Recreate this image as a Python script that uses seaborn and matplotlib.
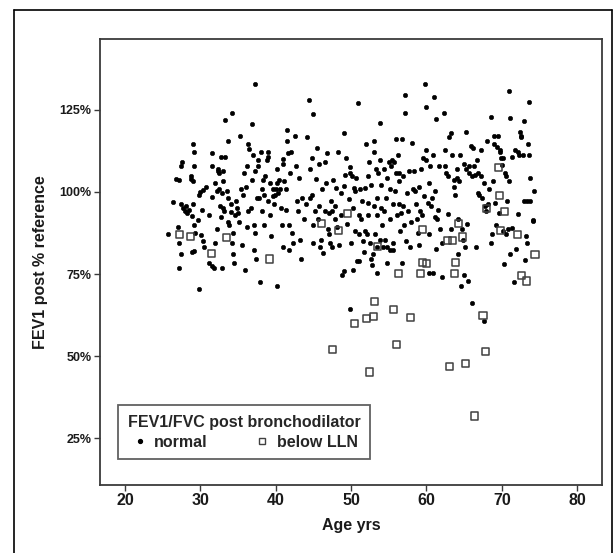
import numpy as np
import pandas as pd
import matplotlib
matplotlib.use("Agg")
import matplotlib.pyplot as plt
import seaborn as sns
from matplotlib.lines import Line2D

# FEV1/FVC normal: (age, FEV1 post % reference)
normal_age = [
    25.7, 26.3, 26.7, 27.0, 27.1, 27.1, 27.2, 27.4, 27.5, 27.4, 27.4, 27.7, 28.0, 28.2, 28.1,
    28.5, 28.7, 28.9, 28.8, 29.0, 29.2, 29.2, 29.0, 29.0, 28.9, 29.1, 29.2, 29.3, 29.8, 29.8,
    29.9, 29.7, 30.2, 30.3, 30.1, 30.4, 30.5,
    30.7, 31.1, 31.2, 31.5, 31.6, 31.5, 31.6, 31.8, 31.9, 32.0, 32.2, 32.2, 32.3, 32.4, 32.5,
    32.5, 32.6, 32.7, 32.8, 32.9, 33.0, 33.0, 33.0, 33.1, 32.9, 33.3, 33.3, 33.5, 33.6, 33.6,
    33.8, 33.7, 34.0, 34.1, 34.2, 34.2, 34.3, 34.3, 34.5, 34.6, 34.7, 34.9, 35.0, 35.1, 35.2,
    35.4, 35.5, 35.6,
    35.8, 35.9, 36.0, 36.2, 36.2, 36.3, 36.3, 36.5, 36.7, 36.8, 36.9, 37.0, 37.1, 37.1, 37.2,
    37.2, 37.3, 37.4, 37.5, 37.6, 37.7, 37.8, 37.9, 38.0, 38.2, 38.2, 38.3, 38.4, 38.5, 38.6,
    38.8, 39.0, 39.0, 39.0, 39.2, 39.3, 39.4, 39.6, 39.7, 39.8, 39.9, 40.0, 40.1, 40.2, 40.2,
    40.3, 40.4, 40.6, 40.7, 40.8, 40.9,
    41.0, 41.0, 41.1, 41.3, 41.4, 41.5, 41.5, 41.6, 41.8, 41.8, 41.9, 42.0, 42.2, 42.3, 42.5,
    42.7, 42.8, 42.9, 43.1, 43.2, 43.4, 43.5, 43.7, 44.0, 44.2, 44.4, 44.5, 44.6, 44.8, 44.8,
    44.9, 44.9, 45.0, 45.2, 45.3, 45.5, 45.6, 45.7, 45.8, 45.9, 46.0, 46.1,
    46.3, 46.5, 46.6, 46.7, 46.8, 46.9, 47.0, 47.1, 47.2, 47.3, 47.4, 47.5, 47.6, 47.8, 47.9,
    48.0, 48.1, 48.3, 48.4, 48.6, 48.7, 48.8, 49.0, 49.0, 49.1, 49.2, 49.3, 49.5, 49.7, 49.8,
    49.8, 49.9, 50.0, 50.1, 50.2, 50.3, 50.4, 50.5, 50.5, 50.7, 50.8, 50.9, 51.0, 51.0, 51.1,
    51.2, 51.3,
    51.4, 51.6, 51.7, 51.8, 51.9, 52.0, 52.1, 52.2, 52.2, 52.3, 52.4, 52.5, 52.6, 52.7, 52.8,
    52.9, 53.0, 53.0, 53.1, 53.2, 53.3, 53.4, 53.4, 53.5, 53.5, 53.6, 53.8, 53.8, 53.8, 53.9,
    54.0, 54.1, 54.2, 54.3, 54.4, 54.5, 54.6, 54.7, 54.8, 54.8, 55.0, 55.1, 55.1, 55.2, 55.3,
    55.4, 55.5, 55.6, 55.6, 55.7, 55.8, 55.9, 56.0, 56.1, 56.2, 56.3, 56.3, 56.4, 56.5,
    56.6, 56.7, 56.8, 56.9, 56.9, 57.0, 57.1, 57.2, 57.3, 57.4, 57.6, 57.7, 57.8, 58.0, 58.1,
    58.2, 58.3, 58.5, 58.6, 58.8, 58.9, 59.0, 59.0, 59.2, 59.3, 59.4, 59.6, 59.7, 59.8, 59.9,
    60.0, 60.0, 60.2, 60.3, 60.3, 60.4, 60.5, 60.6, 60.7, 60.8, 60.8, 61.0, 61.1, 61.1, 61.2,
    61.3, 61.4, 61.5, 61.7,
    61.8, 62.0, 62.1, 62.3, 62.4, 62.5, 62.6, 62.8, 62.9, 63.0, 63.2, 63.3, 63.4, 63.6, 63.7,
    63.8, 64.0, 64.1, 64.2, 64.2, 64.3, 64.5, 64.6, 64.7, 64.9, 65.0, 65.0, 65.1, 65.2, 65.3,
    65.4, 65.5, 65.6, 65.7, 65.9, 66.0, 66.0, 66.2, 66.3, 66.4, 66.6, 66.7, 66.8, 66.9,
    67.0, 67.2, 67.3, 67.4, 67.6, 67.6, 67.7, 67.9, 68.0, 68.1, 68.3, 68.5, 68.6, 68.7, 68.8,
    68.9, 69.0, 69.1, 69.2, 69.3, 69.5, 69.6, 69.7, 69.8, 69.9, 70.0, 70.1, 70.2, 70.3, 70.4,
    70.5, 70.6, 70.7, 70.8, 70.9, 71.0, 71.1, 71.1, 71.3, 71.4, 71.6, 71.8, 71.9, 72.1, 72.2,
    72.3, 72.4, 72.5, 72.6, 72.8, 72.9, 73.0, 73.1, 73.2, 73.3, 73.4, 73.5, 73.6, 73.6, 73.7,
    73.8, 74.1, 74.2, 74.1,
]
normal_fev = [
    87.1, 97.1, 104.0, 89.2, 84.6, 76.9, 103.8, 108.0, 109.0, 81.2, 96.2, 95.0, 94.3, 93.5, 95.6,
    94.6, 104.8, 92.8, 104.0, 114.5, 112.3, 108.0, 103.5, 96.2, 81.7, 82.0, 89.8, 87.6, 70.6, 99.1,
    99.9, 91.4, 94.6, 85.0, 86.8, 100.6, 83.3,
    101.6, 93.0, 78.5, 112.0, 108.0, 98.6, 77.4, 76.9, 84.4, 102.7, 100.2, 88.7, 107.0, 106.5, 105.9,
    100.8, 95.7, 92.5, 110.7, 99.7, 106.5, 103.2, 95.0, 94.1, 76.9, 122.0, 110.7, 100.2, 115.5, 90.8,
    89.8, 98.2, 96.2, 94.0, 124.0, 84.4, 81.2, 87.6, 78.5, 93.0, 97.3, 95.1, 93.5, 90.8, 117.2,
    100.8, 83.9, 99.1,
    105.9, 76.4, 101.6, 108.0, 89.2, 114.5, 94.1, 113.0, 95.1, 103.8, 120.6, 111.2, 89.8, 82.3, 106.5,
    87.6, 133.0, 79.6, 98.2, 109.6, 108.0, 98.2, 72.6, 112.3, 94.1, 100.8, 103.8, 99.1, 89.8, 104.8,
    109.6, 110.7, 112.3, 97.3, 102.7, 93.0, 86.5, 100.8, 98.7, 96.2, 99.1, 100.8, 71.3, 102.7, 107.0,
    99.7, 103.8, 100.8, 95.1, 89.8, 110.0,
    83.3, 108.6, 103.2, 100.8, 94.6, 115.5, 118.8, 111.8, 82.3, 89.8, 105.9, 112.3, 87.6, 84.4, 117.2,
    108.0, 97.3, 94.1, 104.3, 85.5, 79.6, 98.2, 91.9, 96.2, 116.6, 127.9, 107.0, 98.2, 110.2, 99.1,
    123.6, 84.4, 89.8, 94.1, 104.0, 113.4, 91.9, 108.6, 95.7, 83.3, 85.5, 100.8,
    81.4, 94.3, 109.1, 102.7, 112.0, 88.7, 93.5, 87.1, 84.4, 97.3, 83.3, 94.1, 103.8, 91.9, 95.7,
    101.1, 89.2, 112.3, 83.9, 93.0, 99.7, 74.7, 117.9, 75.8, 101.9, 105.3, 110.2, 90.3, 97.8, 107.5,
    64.4, 105.9, 84.4, 104.8, 95.1, 76.3, 101.3, 100.2, 88.2, 104.3, 79.0, 127.0, 93.0, 87.1, 79.0,
    100.8, 91.9,
    97.3, 85.0, 81.7, 88.2, 101.1, 114.5, 87.1, 104.8, 93.0, 96.8, 109.1, 84.4, 79.6, 102.1, 77.9,
    81.2, 115.5, 112.3, 95.7, 87.1, 107.0, 98.2, 83.3, 93.0, 75.3, 105.9, 109.6, 121.1, 85.5, 95.1,
    102.1, 89.8, 83.3, 94.1, 107.0, 85.5, 98.2, 83.3, 104.3, 78.5, 109.1, 91.9, 82.3, 100.8, 108.0,
    109.6, 84.4, 96.2, 82.3, 109.1, 100.2, 105.9, 116.1, 93.0, 111.2, 103.2, 96.2, 105.9, 88.2,
    93.5, 116.1, 78.5, 95.7, 104.8, 89.8, 123.9, 129.5, 85.0, 99.7, 94.1, 106.5, 83.3, 90.8, 115.0,
    100.8, 106.5, 100.2, 96.2, 91.9, 87.6, 83.9, 101.6, 94.1, 107.0, 93.0, 110.2, 98.7, 133.0, 109.6,
    126.0, 112.9, 96.8, 102.7, 87.1, 75.3, 108.0, 95.7, 98.2, 75.3, 111.2, 129.0, 92.5, 100.2, 82.5,
    122.2, 91.9, 94.6, 108.0,
    88.7, 84.4, 74.2, 124.1, 108.0, 112.9, 105.9, 93.2, 104.8, 116.6, 88.7, 117.9, 111.2, 103.8, 101.6,
    99.1, 104.3, 107.0, 81.2, 91.9, 103.2, 111.2, 71.3, 88.7, 85.5, 108.6, 74.7, 83.3, 118.2, 107.0,
    90.3, 72.8, 108.0, 105.9, 113.9, 66.3, 104.8, 113.4, 108.0, 105.3, 83.3, 109.6, 105.9, 99.7,
    99.1, 112.9, 104.8, 98.2, 102.7, 60.8, 95.7, 94.1, 115.5, 96.2, 100.8, 122.7, 84.4, 87.1, 103.2,
    114.5, 117.2, 96.8, 89.8, 113.7, 116.9, 93.5, 112.3, 112.9, 110.2, 108.2, 110.4, 88.2, 78.0, 105.9,
    87.1, 104.8, 97.3, 88.7, 130.6, 103.2, 122.5, 81.2, 88.9, 110.7, 72.6, 112.9, 82.5, 93.2, 112.3,
    111.2, 118.2, 116.6, 117.2, 111.2, 97.3, 121.5, 79.2, 86.5, 84.4, 97.3, 114.5, 127.4, 111.2, 97.3,
    104.3, 91.1, 100.2, 91.4,
]

# FEV1/FVC below LLN
low_age = [
    27.2, 28.7, 31.5, 33.5, 39.2, 46.1, 48.3, 49.5, 53.5, 59.5, 59.5, 60.0, 56.3, 59.2, 62.8,
    63.5, 64.3, 64.8, 63.8, 63.7, 68.0, 69.5, 69.7, 70.3, 69.8, 72.1, 72.6, 73.3, 74.4, 53.1,
    55.6, 53.0, 52.0, 50.5, 57.9, 67.5, 56.0, 47.5, 67.8, 52.4, 63.0, 65.2, 66.4,
]
low_fev = [
    87.1, 86.5, 81.2, 86.2, 79.6, 90.3, 88.2, 93.5, 83.3, 88.7, 78.5, 78.2, 75.3, 75.3, 85.2,
    85.2, 90.5, 86.3, 78.5, 75.3, 95.1, 107.5, 98.9, 94.1, 88.2, 87.1, 74.5, 72.9, 81.0, 66.7,
    64.3, 62.1, 61.4, 59.9, 61.8, 62.4, 53.5, 52.0, 51.4, 45.2, 47.0, 47.8, 31.8,
]

y_ticks = [25, 50, 75, 100, 125]
x_ticks = [20, 30, 40, 50, 60, 70, 80]

normal_df = pd.DataFrame({"age": normal_age, "fev": normal_fev})
low_df = pd.DataFrame({"age": low_age, "fev": low_fev})

sns.set_theme(style="white")
plt.rcParams["font.family"] = ["Liberation Sans", "DejaVu Sans"]
plt.rcParams["font.weight"] = "bold"

fig = plt.figure(figsize=(6.15, 5.53), dpi=100)
ax = fig.add_axes([0.1626, 0.123, 0.8164, 0.806])

edge = "#3a3a3a"
sns.scatterplot(data=normal_df, x="age", y="fev", ax=ax, color="black",
                marker="o", s=10, edgecolor="black", linewidth=0.4)
sns.scatterplot(data=low_df, x="age", y="fev", ax=ax, marker="s", s=26,
                facecolor="none", edgecolor="#404040", linewidth=1.1)

ax.set_xlim(16.68, 83.3)
ax.set_ylim(10.8, 146.5)
ax.set_xticks(x_ticks)
ax.set_yticks(y_ticks)
ax.set_xticklabels([str(t) for t in x_ticks], fontsize=11.5, fontweight="bold", color="#1a1a1a")
ax.set_yticklabels([f"{t}%" for t in y_ticks], fontsize=9, fontweight="bold", color="#1a1a1a")
ax.tick_params(axis="both", direction="out", length=4, width=1.0, color=edge,
               bottom=True, left=True, pad=2)
for sp in ax.spines.values():
    sp.set_color(edge)
    sp.set_linewidth(1.3)

ax.set_xlabel("Age yrs", fontsize=11.5, fontweight="bold", color="#1a1a1a", labelpad=7)
ax.set_ylabel("FEV1 post % reference", fontsize=11.5, fontweight="bold", color="#1a1a1a", labelpad=8)

handles = [
    Line2D([], [], linestyle="none", marker="o", markersize=2.8, color="black"),
    Line2D([], [], linestyle="none", marker="s", markersize=5.0, markerfacecolor="none",
           markeredgecolor="#404040", markeredgewidth=1.0),
]
leg = ax.legend(handles, ["normal", "below LLN"], ncol=2, loc="lower left",
                bbox_to_anchor=(0.036, 0.058), borderaxespad=0, frameon=True,
                fancybox=False, edgecolor=edge, title="FEV1/FVC post bronchodilator",
                prop={"size": 11.5, "weight": "bold"}, handletextpad=0.3,
                columnspacing=2.8, handlelength=1.2, borderpad=0.6,
                labelspacing=0.3, alignment="center")
leg.get_title().set_fontsize(11.5)
leg.get_title().set_fontweight("bold")
leg.get_frame().set_linewidth(1.3)

# thin frame around the whole picture (left, top, right)
fig.add_artist(Line2D([0.022, 0.022], [0, 0.982], transform=fig.transFigure, color="black", lw=1.2))
fig.add_artist(Line2D([0.022, 0.995], [0.982, 0.982], transform=fig.transFigure, color="black", lw=1.2))
fig.add_artist(Line2D([0.995, 0.995], [0, 0.982], transform=fig.transFigure, color="black", lw=1.2))

fig.savefig("out.png", dpi=100)
